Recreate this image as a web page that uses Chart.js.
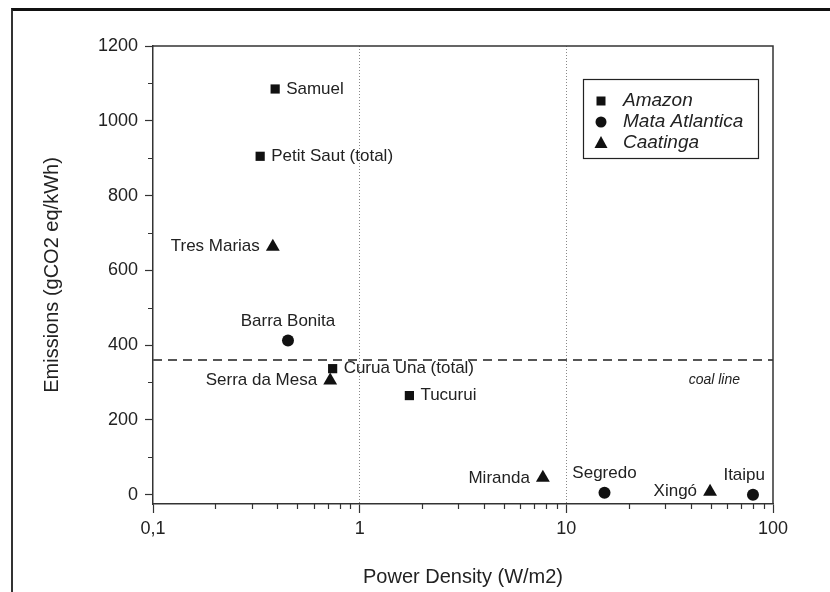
<!DOCTYPE html>
<html>
<head>
<meta charset="utf-8">
<script src="https://cdn.jsdelivr.net/npm/chart.js@4.4.1/dist/chart.umd.min.js"></script>
<style>
  html, body { margin: 0; padding: 0; background: #ffffff; }
  #wrap { position: relative; width: 830px; height: 592px; overflow: hidden; }
  #frame {
    position: absolute; left: 11px; top: 8px; width: 840px; height: 600px;
    border-left: 2px solid #333333; border-top: 3px solid #111111;
  }
  #chart { position: absolute; left: 0; top: 0; }
</style>
</head>
<body>
<div id="wrap">
  <div id="frame"></div>
  <canvas id="chart" width="830" height="592"></canvas>
</div>
<script>
/**
 * Emissions vs power density of Brazilian hydro reservoirs
 */

// Amazon reservoirs (squares)
const amazonNames = ['Samuel', 'Petit Saut (total)', 'Curua Una (total)', 'Tucurui'];
const amazonX = [0.39, 0.33, 0.74, 1.74];
const amazonY = [1085, 905, 337, 265];

// Mata Atlantica reservoirs (circles)
const mataNames = ['Barra Bonita', 'Segredo', 'Itaipu'];
const mataX = [0.45, 15.3, 80];
const mataY = [412, 5, 0];

// Caatinga reservoirs (triangles)
const caatingaNames = ['Tres Marias', 'Serra da Mesa', 'Miranda', 'Xingó'];
const caatingaX = [0.38, 0.72, 7.7, 49.6];
const caatingaY = [663, 305, 45, 8];

// coal reference line
const coalLineValue = 360;
const coalLineRange = [0.1, 100];

// axes
const xTickValues = [0.1, 1, 10, 100];
const xTickLabels = ['0,1', '1', '10', '100'];
const xGridValues = [1, 10];
const yTickValues = [0, 200, 400, 600, 800, 1000, 1200];
const yMinorValues = [100, 300, 500, 700, 900, 1100];

// label side for each point, same order as the names
const amazonSide = ['right', 'right', 'right', 'right'];
const mataSide = ['above', 'above', 'above'];
const caatingaSide = ['left', 'left', 'left', 'left'];

const FONT = "'Liberation Sans', Arial, sans-serif";
const INK = '#111111';
const TEXT = '#222222';

function toPoints(xs, ys) {
  return xs.map((x, i) => ({ x: x, y: ys[i] }));
}

/**
 * Names next to the markers.
 */
const pointLabels = {
  id: 'pointLabels',
  afterDatasetsDraw(chart) {
    const ctx = chart.ctx;
    const area = chart.chartArea;
    ctx.save();
    ctx.font = '17px ' + FONT;
    ctx.fillStyle = TEXT;
    chart.data.datasets.forEach((ds, i) => {
      if (!ds.names) return;
      const meta = chart.getDatasetMeta(i);
      meta.data.forEach((el, j) => {
        const side = ds.sides[j];
        const name = ds.names[j];
        if (side === 'right') {
          ctx.textAlign = 'left';
          ctx.textBaseline = 'middle';
          ctx.fillText(name, el.x + 11, el.y);
        } else if (side === 'left') {
          ctx.textAlign = 'right';
          ctx.textBaseline = 'middle';
          ctx.fillText(name, el.x - 13, el.y);
        } else {
          const w = ctx.measureText(name).width;
          let cx = el.x;
          if (cx + w / 2 > area.right - 8) cx = area.right - 8 - w / 2;
          ctx.textAlign = 'center';
          ctx.textBaseline = 'middle';
          ctx.fillText(name, cx, el.y - 19);
        }
      });
    });

    // coal line caption
    const yc = chart.scales.y.getPixelForValue(coalLineValue);
    ctx.font = 'italic 14px ' + FONT;
    ctx.textAlign = 'right';
    ctx.textBaseline = 'middle';
    ctx.fillText('coal line', area.right - 33, yc + 20);
    ctx.restore();
  }
};

/**
 * Box round the plot, minor ticks and the legend box.
 */
const plotDecor = {
  id: 'plotDecor',
  afterDraw(chart) {
    const ctx = chart.ctx;
    const a = chart.chartArea;
    const xs = chart.scales.x;
    const ys = chart.scales.y;
    ctx.save();
    ctx.strokeStyle = '#333333';
    ctx.lineWidth = 1.5;
    ctx.beginPath();
    ctx.moveTo(a.left, a.top);
    ctx.lineTo(a.right, a.top);
    ctx.lineTo(a.right, a.bottom);
    ctx.stroke();

    // minor ticks
    ctx.lineWidth = 1.2;
    ctx.beginPath();
    for (let d = 0.1; d < 100; d *= 10) {
      for (let k = 2; k <= 9; k++) {
        const px = Math.round(xs.getPixelForValue(d * k)) + 0.5;
        ctx.moveTo(px, a.bottom);
        ctx.lineTo(px, a.bottom + 5);
      }
    }
    yMinorValues.forEach(v => {
      const py = Math.round(ys.getPixelForValue(v)) + 0.5;
      ctx.moveTo(a.left - 5, py);
      ctx.lineTo(a.left, py);
    });
    ctx.stroke();

    // legend
    const bx = a.right - 190, by = a.top + 33, bw = 175, bh = 79;
    ctx.strokeStyle = '#222222';
    ctx.lineWidth = 1.2;
    ctx.strokeRect(bx + 0.5, by + 0.5, bw, bh);
    ctx.font = 'italic 19px ' + FONT;
    ctx.textAlign = 'left';
    ctx.textBaseline = 'middle';
    chart.data.datasets.forEach((ds, i) => {
      if (!ds.names) return;
      const ly = by + 22 + i * 21;
      const lx = bx + 18;
      ctx.fillStyle = INK;
      ctx.beginPath();
      if (ds.pointStyle === 'rect') {
        ctx.rect(lx - 4.5, ly - 4.5, 9, 9);
      } else if (ds.pointStyle === 'circle') {
        ctx.arc(lx, ly, 5.5, 0, Math.PI * 2);
      } else {
        ctx.moveTo(lx, ly - 7);
        ctx.lineTo(lx + 6.5, ly + 5);
        ctx.lineTo(lx - 6.5, ly + 5);
        ctx.closePath();
      }
      ctx.fill();
      ctx.fillStyle = TEXT;
      ctx.fillText(ds.label, lx + 22, ly);
    });
    ctx.restore();
  }
};

const ctx = document.getElementById('chart');

new Chart(ctx, {
  type: 'scatter',
  data: {
    datasets: [
      {
        label: 'Amazon',
        data: toPoints(amazonX, amazonY),
        names: amazonNames,
        sides: amazonSide,
        pointStyle: 'rect',
        pointRadius: 6.5,
        backgroundColor: INK,
        borderColor: INK,
        borderWidth: 0
      },
      {
        label: 'Mata Atlantica',
        data: toPoints(mataX, mataY),
        names: mataNames,
        sides: mataSide,
        pointStyle: 'circle',
        pointRadius: 6,
        backgroundColor: INK,
        borderColor: INK,
        borderWidth: 0
      },
      {
        label: 'Caatinga',
        data: toPoints(caatingaX, caatingaY),
        names: caatingaNames,
        sides: caatingaSide,
        pointStyle: 'triangle',
        pointRadius: 8,
        backgroundColor: INK,
        borderColor: INK,
        borderWidth: 0
      },
      {
        label: 'coal line',
        data: coalLineRange.map(x => ({ x: x, y: coalLineValue })),
        showLine: true,
        pointRadius: 0,
        borderColor: '#555555',
        borderWidth: 2,
        borderDash: [9, 6]
      }
    ]
  },
  options: {
    responsive: false,
    animation: false,
    layout: { padding: { left: 0, top: 46, right: 57, bottom: 0 } },
    plugins: {
      legend: { display: false },
      tooltip: { enabled: false }
    },
    scales: {
      x: {
        type: 'logarithmic',
        position: 'bottom',
        min: 0.1,
        max: 100,
        afterBuildTicks: (scale) => { scale.ticks = xTickValues.map(v => ({ value: v })); },
        afterFit: (scale) => { scale.height = 88; },
        ticks: {
          color: TEXT,
          font: { family: FONT, size: 18 },
          padding: 5,
          maxRotation: 0,
          autoSkip: false,
          callback: (v) => xTickLabels[xTickValues.indexOf(v)]
        },
        grid: {
          drawOnChartArea: true,
          color: (c) => (c.tick && xGridValues.includes(c.tick.value)) ? '#888888' : 'transparent',
          lineWidth: 1,
          tickLength: 9,
          tickColor: '#333333',
          tickWidth: 1.2
        },
        border: { display: true, color: '#333333', width: 1.5, dash: [1, 2] },
        title: {
          display: true,
          text: 'Power Density (W/m2)',
          color: TEXT,
          font: { family: FONT, size: 20 },
          padding: { top: 0, bottom: 3 }
        }
      },
      y: {
        type: 'linear',
        position: 'left',
        min: -25,
        max: 1200,
        afterBuildTicks: (scale) => { scale.ticks = yTickValues.map(v => ({ value: v })); },
        afterFit: (scale) => { scale.width = 153; },
        ticks: {
          color: TEXT,
          font: { family: FONT, size: 18 },
          padding: 7,
          callback: (v) => String(v)
        },
        grid: {
          drawOnChartArea: false,
          tickLength: 8,
          tickColor: '#333333',
          tickWidth: 1.2
        },
        border: { display: true, color: '#333333', width: 1.5 },
        title: {
          display: true,
          text: 'Emissions (gCO2 eq/kWh)',
          color: TEXT,
          font: { family: FONT, size: 20 },
          padding: { top: 40, bottom: 0 }
        }
      }
    }
  },
  plugins: [pointLabels, plotDecor]
});
</script>
</body>
</html>
